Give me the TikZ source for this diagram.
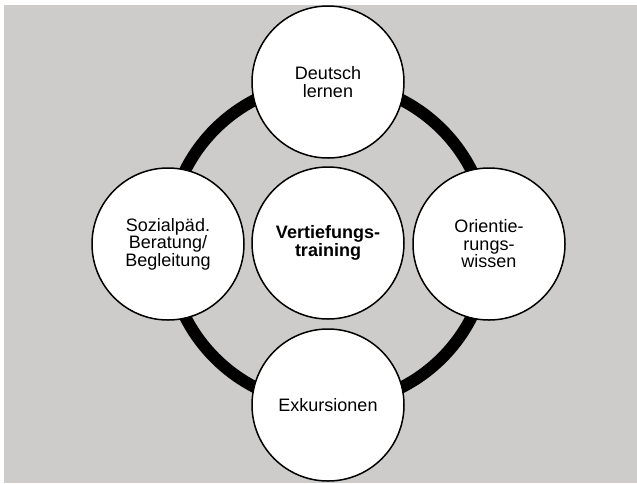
\documentclass[tikz,border=0pt]{standalone}
\usepackage{fontspec}
\setmainfont{Liberation Sans}
\pgfdeclarelayer{bg}
\pgfdeclarelayer{ringlayer}
\pgfsetlayers{bg,ringlayer,main}
\definecolor{panelgray}{RGB}{205,204,202}
\tikzset{
  topic/.style={circle, draw=black, line width=1.5pt, fill=white,
    minimum size=152pt, inner sep=0pt, align=center,
    font=\fontsize{18}{17.5}\selectfont},
  hub/.style={topic, font=\fontsize{18}{18}\selectfont\bfseries},
  ring/.style={line width=12pt, draw=black}
}
\begin{document}
\begin{tikzpicture}[x=1pt, y=-1pt]
  \useasboundingbox (0,0) rectangle (637,483);
  \begin{pgfonlayer}{bg}
    \fill[panelgray] (4,5) rectangle (637,483);
  \end{pgfonlayer}

  \node[hub]   (hub)    at (328,243) {Vertiefungs-\\training};
  \node[topic] (top)    at (328,82)  {Deutsch\\lernen};
  \node[topic] (right)  at (489,244) {Orientie-\\rungs-\\wissen};
  \node[topic] (bottom) at (328,405) {Exkursionen};
  \node[topic] (left)   at (168,244) {Sozialpäd.\\Beratung/\\Begleitung};

  \begin{pgfonlayer}{ringlayer}
    \draw[ring] (top.center) to[bend left=45] (right.center)
                to[bend left=45] (bottom.center)
                to[bend left=45] (left.center)
                to[bend left=45] (top.center);
  \end{pgfonlayer}
\end{tikzpicture}
\end{document}
